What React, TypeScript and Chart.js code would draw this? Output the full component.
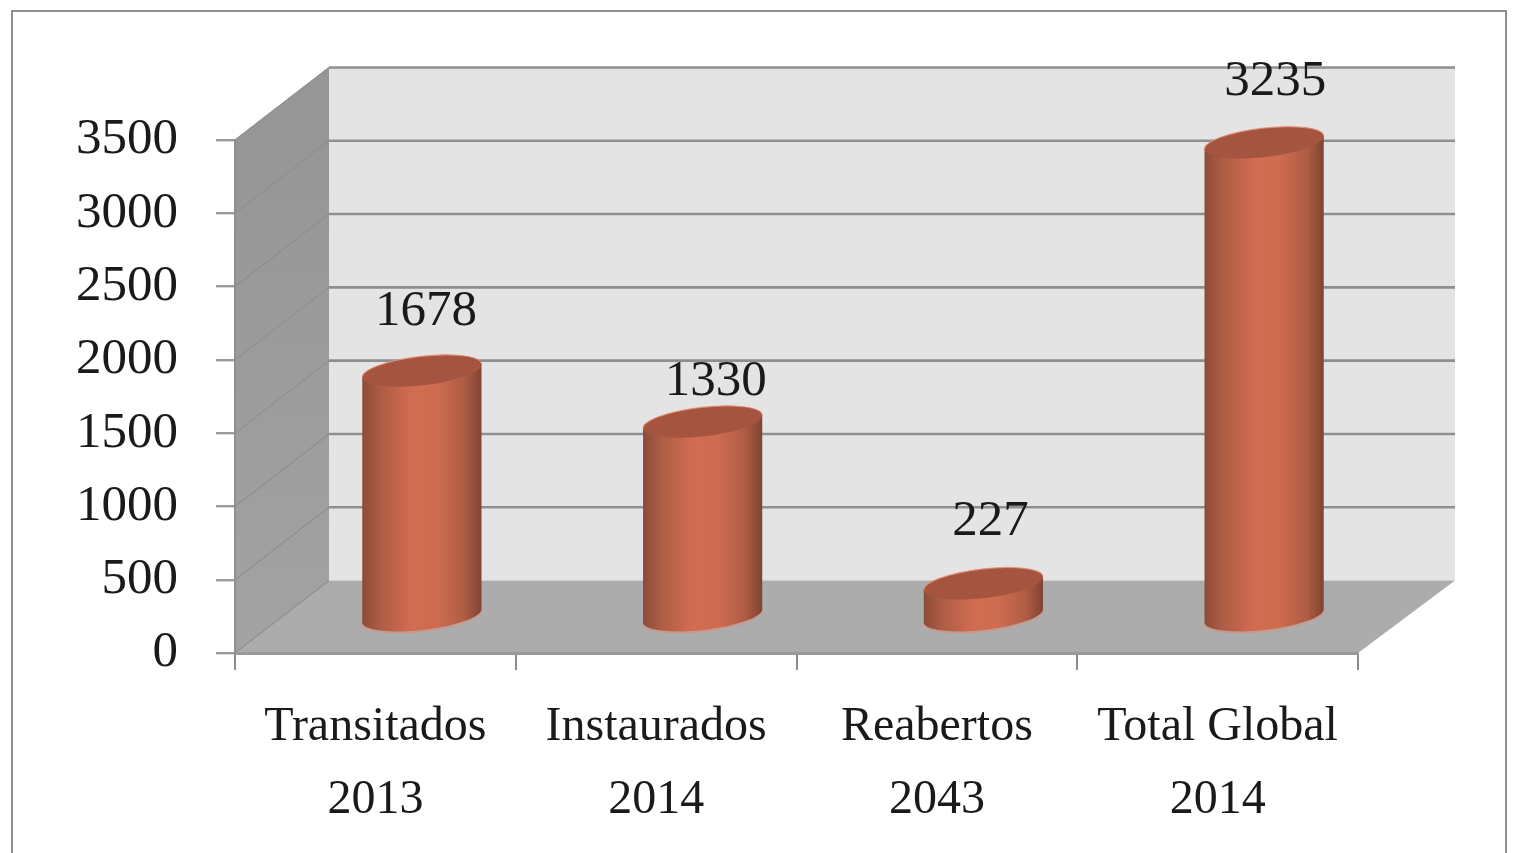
import React, { useEffect, useRef } from "react";
import { Chart, registerables } from "chart.js";

Chart.register(...registerables);

const categories = ["Transitados", "Instaurados", "Reabertos", "Total Global"];
const years = ["2013", "2014", "2043", "2014"];
const values = [1678, 1330, 227, 3235];
const yMax = 3500;
const yStep = 500;

const FONT = '"Liberation Serif", serif';
const DEPTH_X = 94;
const DEPTH_X_RIGHT = 97;
const DEPTH_Y = -72.5;
const ROT = -0.115;
const RX = 60;
const RY = 14.5;
const labelNudge = [
  { dx: 4, dy: -59 },
  { dx: 13, dy: -40 },
  { dx: 7, dy: -62 },
  { dx: 11, dy: -61 },
];

function poly(ctx: CanvasRenderingContext2D, pts: number[][], fill: any) {
  ctx.beginPath();
  pts.forEach((p, i) => (i ? ctx.lineTo(p[0], p[1]) : ctx.moveTo(p[0], p[1])));
  ctx.closePath();
  ctx.fillStyle = fill;
  ctx.fill();
}

const scene3d = {
  id: "scene3d",
  beforeDraw(chart: any) {
    const { ctx, chartArea: a, scales } = chart;
    const y = scales.y;
    const dx = DEPTH_X;
    const dr = DEPTH_X_RIGHT;
    const dy = DEPTH_Y;
    ctx.save();
    ctx.fillStyle = "#ffffff";
    ctx.fillRect(0, 0, chart.width, chart.height);
    ctx.strokeStyle = "#8e8e8e";
    ctx.lineWidth = 2;
    ctx.strokeRect(12, 11, 1494, 900);

    // back wall
    poly(ctx, [[a.left + dx, a.top + dy], [a.right + dr, a.top + dy], [a.right + dr, a.bottom + dy], [a.left + dx, a.bottom + dy]], "#e4e4e4");
    // side wall
    const side = ctx.createLinearGradient(0, a.top, 0, a.bottom);
    side.addColorStop(0, "#969696");
    side.addColorStop(1, "#a3a3a3");
    poly(ctx, [[a.left, a.top], [a.left + dx, a.top + dy], [a.left + dx, a.bottom + dy], [a.left, a.bottom]], side);
    // floor
    poly(ctx, [[a.left, a.bottom], [a.right, a.bottom], [a.right + dr, a.bottom + dy], [a.left + dx, a.bottom + dy]], "#acacac");

    // grid lines on the walls
    y.ticks.forEach((t: any) => {
      const py = y.getPixelForValue(t.value);
      if (t.value > 0) {
        ctx.beginPath();
        ctx.moveTo(a.left + dx, py + dy);
        ctx.lineTo(a.right + dr, py + dy);
        ctx.strokeStyle = "#8f8f8f";
        ctx.lineWidth = 2.6;
        ctx.stroke();
      }
      ctx.beginPath();
      ctx.moveTo(a.left, py);
      ctx.lineTo(a.left + dx, py + dy);
      ctx.strokeStyle = "#8f8f8f";
      ctx.lineWidth = 1.2;
      ctx.stroke();
    });
    ctx.restore();
  },
  beforeDatasetDraw(chart: any, args: any) {
    const { ctx } = chart;
    const meta = chart.getDatasetMeta(args.index);
    meta.data.forEach((el: any) => {
      const cx = el.x + 46.5;
      const half = el.width / 2;
      const top = el.y + DEPTH_Y / 2;
      const base = el.base + DEPTH_Y / 2;
      const g = ctx.createLinearGradient(cx - half, 0, cx + half, 0);
      g.addColorStop(0, "#8b4b37");
      g.addColorStop(0.14, "#ab5b45");
      g.addColorStop(0.4, "#d06c50");
      g.addColorStop(0.62, "#cf6c50");
      g.addColorStop(0.86, "#ae5c45");
      g.addColorStop(1, "#7e4331");
      ctx.save();
      // soft rim under the base
      ctx.beginPath();
      ctx.ellipse(cx, base + 1, RX, RY, ROT, 0, Math.PI);
      ctx.strokeStyle = "rgba(225,140,115,0.7)";
      ctx.lineWidth = 1.5;
      ctx.stroke();
      // body
      ctx.beginPath();
      ctx.ellipse(cx, base, RX, RY, ROT, 0, Math.PI);
      ctx.ellipse(cx, top, RX, RY, ROT, Math.PI, 0);
      ctx.closePath();
      ctx.fillStyle = g;
      ctx.fill();
      // cap
      ctx.beginPath();
      ctx.ellipse(cx, top, RX, RY, ROT, 0, Math.PI * 2);
      ctx.fillStyle = "#a5553f";
      ctx.fill();
      ctx.beginPath();
      ctx.ellipse(cx, top, RX, RY, ROT, Math.PI, Math.PI * 2);
      ctx.strokeStyle = "rgba(232,150,125,0.8)";
      ctx.lineWidth = 1.2;
      ctx.stroke();
      ctx.restore();
    });
    return false;
  },
  afterDatasetsDraw(chart: any) {
    const { ctx } = chart;
    const meta = chart.getDatasetMeta(0);
    ctx.save();
    ctx.font = `51px ${FONT}`;
    ctx.fillStyle = "#1a1a1a";
    ctx.textAlign = "center";
    ctx.textBaseline = "middle";
    meta.data.forEach((el: any, i: number) => {
      const n = labelNudge[i];
      ctx.fillText(String(values[i]), el.x + 46.5 + n.dx, el.y + DEPTH_Y / 2 + n.dy);
    });
    ctx.restore();
  },
};

export default function App() {
  const ref = useRef<HTMLCanvasElement | null>(null);
  useEffect(() => {
    if (!ref.current) return;
    const chart = new Chart(ref.current, {
      type: "bar",
      data: {
        labels: categories.map((c, i) => [c, years[i]]),
        datasets: [
          {
            label: "Processos",
            data: values,
            backgroundColor: "#cf6c50",
            barPercentage: 0.427,
            categoryPercentage: 1,
          },
        ],
      },
      options: {
        responsive: false,
        animation: false,
        layout: { padding: { left: 0, top: 140, right: 159, bottom: 0 } },
        plugins: { legend: { display: false }, tooltip: { enabled: false } },
        scales: {
          x: {
            afterFit: (s: any) => {
              s.height = 200;
            },
            border: { color: "#9a9a9a", width: 3 },
            grid: { drawOnChartArea: false, tickLength: 17, color: "#8c8c8c", lineWidth: 2 },
            ticks: {
              autoSkip: false,
              maxRotation: 0,
              minRotation: 0,
              padding: 21,
              color: "#1a1a1a",
              font: { family: FONT, size: 48, lineHeight: 1.52 },
            },
          },
          y: {
            min: 0,
            max: yMax,
            afterFit: (s: any) => {
              s.width = 235;
            },
            border: { color: "#8f8f8f", width: 2 },
            grid: { drawOnChartArea: false, tickLength: 19, color: "#9a9a9a", lineWidth: 2.4 },
            ticks: {
              stepSize: yStep,
              padding: 38,
              color: "#1a1a1a",
              font: { family: FONT, size: 51 },
              callback: (v: any) => String(v),
            },
          },
        },
      },
      plugins: [scene3d],
    } as any);
    return () => chart.destroy();
  }, []);
  return (
    <canvas
      ref={ref}
      width={1517}
      height={853}
      style={{ position: "fixed", left: 0, top: 0, display: "block", filter: "blur(0.5px)" }}
    />
  );
}
